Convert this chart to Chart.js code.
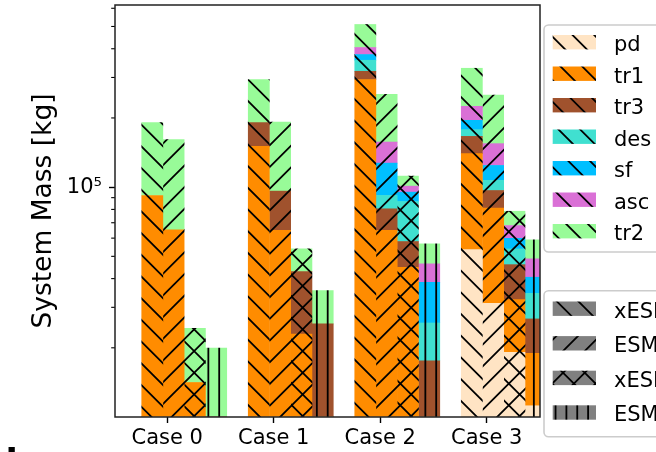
<!DOCTYPE html>
<html lang="en">

<head>
  <meta charset="UTF-8" />
  <title>System Mass</title>
  <style>
    * {
      box-sizing: border-box;
      margin: 0;
      padding: 0;
    }

    html,
    body {
      width: 656px;
      height: 452px;
      overflow: hidden;
      background: #fff;
    }

    #wrap {
      width: 656px;
      height: 452px;
      overflow: hidden;
    }

    #massChart {
      display: block;
    }
  </style>
  <script src="https://cdn.jsdelivr.net/npm/chart.js@4/dist/chart.umd.min.js"></script>
</head>

<body>
  <div id="wrap"><canvas id="massChart" width="760" height="452"></canvas></div>

  <script>
    // categories and series
    const cases = ['Case 0', 'Case 1', 'Case 2', 'Case 3'];
    const parts = ['pd', 'tr1', 'tr3', 'des', 'sf', 'asc', 'tr2'];
    const barNames = ['xESM (A)', 'ESM (A)', 'xESM (B)', 'ESM (B)'];

    // mass in kg: one row per part (pd ... tr2), one column per case
    const massA = [
      [0, 0, 0, 53500],
      [92000, 150400, 293800, 86300],
      [0, 40500, 25400, 26500],
      [0, 0, 37300, 11600],
      [0, 0, 21000, 17400],
      [0, 0, 27500, 29400],
      [99000, 102900, 105100, 104300]
    ];
    const massB = [
      [0, 0, 0, 31200],
      [65200, 64800, 64800, 49800],
      [0, 31300, 15700, 15700],
      [0, 0, 11500, 10300],
      [0, 0, 35200, 17300],
      [0, 0, 29900, 30300],
      [95800, 96000, 96400, 97100]
    ];
    const massC = [
      [0, 0, 0, 19100],
      [14130, 22970, 44800, 13300],
      [0, 19960, 13200, 13600],
      [0, 0, 28600, 7850],
      [0, 0, 8500, 6050],
      [0, 0, 5900, 8150],
      [10160, 10970, 10700, 10500]
    ];
    const massD = [
      [0, 0, 0, 11190],
      [0, 0, 0, 7710],
      [0, 25400, 17570, 7810],
      [0, 0, 8080, 7810],
      [0, 0, 12900, 6030],
      [0, 0, 7820, 8210],
      [19960, 10080, 10290, 10230]
    ];

    // y tick values (only 1e5 is labelled)
    const yTicks = [2e4, 3e4, 4e4, 5e4, 6e4, 7e4, 8e4, 9e4, 1e5, 2e5, 3e5, 4e5, 5e5, 6e5];

    // styles
    const FONT = 'DejaVu Sans';
    const partColors = ['#ffe4c4', '#ff8c00', '#a0522d', '#40e0d0', '#00bfff', '#da70d6', '#98fb98'];
    const barHatch = ['\\', '/', 'x', '|'];
    const barShift = [-0.14, 0.06, 0.26, 0.46];

    const canvas = document.getElementById('massChart');
    const ctx = canvas.getContext('2d');

    // hatch patterns, anchored to the canvas like matplotlib's
    const P = 21.7, T = 217;
    const PHASE = { bs: 5.0, fs: 2.7, v: 2.2 };
    function hatchPattern(color, hatch) {
      const c = document.createElement('canvas');
      c.width = c.height = T;
      const g = c.getContext('2d');
      g.fillStyle = color;
      g.fillRect(0, 0, T, T);
      g.strokeStyle = '#000';
      g.lineWidth = 1.8;
      g.beginPath();
      if (hatch === '\\' || hatch === 'x') {
        for (let k = -12; k <= 12; k++) {
          const c0 = PHASE.bs + k * P;
          g.moveTo(-P, c0 - P);
          g.lineTo(T + P, c0 + T + P);
        }
      }
      if (hatch === '/' || hatch === 'x') {
        for (let k = -2; k <= 22; k++) {
          const c0 = PHASE.fs + k * P;
          g.moveTo(-P, c0 + P);
          g.lineTo(T + P, c0 - T - P);
        }
      }
      if (hatch === '|') {
        for (let k = -1; k <= 21; k++) {
          const x = PHASE.v + k * P / 2;
          g.moveTo(x, -2);
          g.lineTo(x, T + 2);
        }
      }
      g.stroke();
      return ctx.createPattern(c, 'repeat');
    }

    const datasets = [];
    [massA, massB, massC, massD].forEach((rows, b) => {
      rows.forEach((vals, p) => {
        datasets.push({
          label: parts[p] + ' ' + barNames[b],
          data: vals.map((v, i) => ({ x: i + barShift[b], y: v })),
          backgroundColor: hatchPattern(partColors[p], barHatch[b]),
          borderWidth: 0,
          barThickness: 21.1,
          clip: 0
        });
      });
    });

    // minor ticks + frame
    const axisMarks = {
      id: 'axisMarks',
      afterDatasetsDraw(chart) {
        const { ctx, chartArea: a, scales: { y } } = chart;
        ctx.save();
        ctx.strokeStyle = '#000';
        ctx.lineWidth = 1.1;
        yTicks.forEach(v => {
          if (v === 1e5) return;
          const py = y.getPixelForValue(v);
          ctx.beginPath();
          ctx.moveTo(a.left - 3.8, py);
          ctx.lineTo(a.left, py);
          ctx.stroke();
        });
        ctx.strokeStyle = '#222';
        ctx.lineWidth = 1.5;
        ctx.strokeRect(a.left, a.top, a.right - a.left, a.bottom - a.top);
        ctx.restore();
      }
    };

    function roundBox(c, x, y, w, h, r) {
      c.beginPath();
      c.moveTo(x + r, y);
      c.lineTo(x + w - r, y);
      c.arcTo(x + w, y, x + w, y + r, r);
      c.lineTo(x + w, y + h - r);
      c.arcTo(x + w, y + h, x + w - r, y + h, r);
      c.lineTo(x + r, y + h);
      c.arcTo(x, y + h, x, y + h - r, r);
      c.lineTo(x, y + r);
      c.arcTo(x, y, x + r, y, r);
      c.closePath();
    }

    // two legend boxes on the right (partly outside the window)
    const sideLegends = {
      id: 'sideLegends',
      afterDraw(chart) {
        const c = chart.ctx;
        c.save();
        const boxes = [
          { top: 25, h: 227, first: 42.2, step: 31.5, names: parts, fills: partColors.map(col => hatchPattern(col, '\\')) },
          { top: 290.7, h: 146, first: 308.7, step: 34.6, names: barNames, fills: barHatch.map(hh => hatchPattern('#808080', hh)) }
        ];
        boxes.forEach(bx => {
          roundBox(c, 544, bx.top, 200, bx.h, 4.5);
          c.fillStyle = 'rgba(255,255,255,0.8)';
          c.fill();
          c.strokeStyle = '#cccccc';
          c.lineWidth = 1.6;
          c.stroke();
          c.font = '21px "' + FONT + '"';
          c.textBaseline = 'alphabetic';
          c.textAlign = 'left';
          bx.names.forEach((name, i) => {
            const cy = bx.first + i * bx.step;
            c.fillStyle = bx.fills[i];
            c.fillRect(552.7, cy - 7.2, 43.3, 14.4);
            c.fillStyle = '#000';
            c.fillText(name, 614, cy + 8.8);
          });
        });
        c.font = 'bold 36px "' + FONT + '"';
        c.fillStyle = '#000';
        c.fillText('b', 5.5, 473.5);
        c.restore();
      }
    };

    new Chart(ctx, {
      type: 'bar',
      data: { datasets },
      options: {
        responsive: false,
        animation: false,
        devicePixelRatio: 1,
        events: [],
        layout: { padding: { left: 0, top: 5, right: 220, bottom: 0 } },
        plugins: { legend: { display: false }, tooltip: { enabled: false } },
        scales: {
          x: {
            type: 'linear',
            min: -0.49,
            max: 3.5,
            stacked: true,
            offset: false,
            bounds: 'data',
            afterBuildTicks: s => { s.ticks = cases.map((_, i) => ({ value: i })); },
            afterFit: s => { s.height = 35; s.paddingLeft = 0; s.paddingRight = 0; },
            ticks: {
              callback: v => cases[v],
              autoSkip: false,
              maxRotation: 0,
              padding: 3,
              color: '#000',
              font: { family: FONT, size: 21 }
            },
            grid: { offset: false, drawOnChartArea: false, drawTicks: true, tickLength: 6, tickWidth: 1.4, tickColor: '#000' },
            border: { display: false }
          },
          y: {
            type: 'logarithmic',
            min: 1e4,
            max: 6.2e5,
            stacked: true,
            bounds: 'data',
            afterBuildTicks: s => { s.ticks = yTicks.map(v => ({ value: v, major: v === 1e5 })); },
            afterFit: s => { s.width = 115; s.paddingTop = 0; s.paddingBottom = 0; },
            ticks: {
              callback: v => (v === 1e5 ? '10\u2075' : ''),
              autoSkip: false,
              padding: 7,
              color: '#000',
              font: { family: FONT, size: 21 }
            },
            grid: {
              drawOnChartArea: false,
              drawTicks: true,
              tickLength: 6,
              tickWidth: 1.4,
              tickColor: c => (c.tick && c.tick.value === 1e5 ? '#000' : 'rgba(0,0,0,0)')
            },
            border: { display: false },
            title: {
              display: true,
              text: 'System Mass [kg]',
              color: '#000',
              font: { family: FONT, size: 26.5 },
              padding: { top: 28, bottom: 0 }
            }
          }
        }
      },
      plugins: [axisMarks, sideLegends]
    });
  </script>
</body>

</html>
